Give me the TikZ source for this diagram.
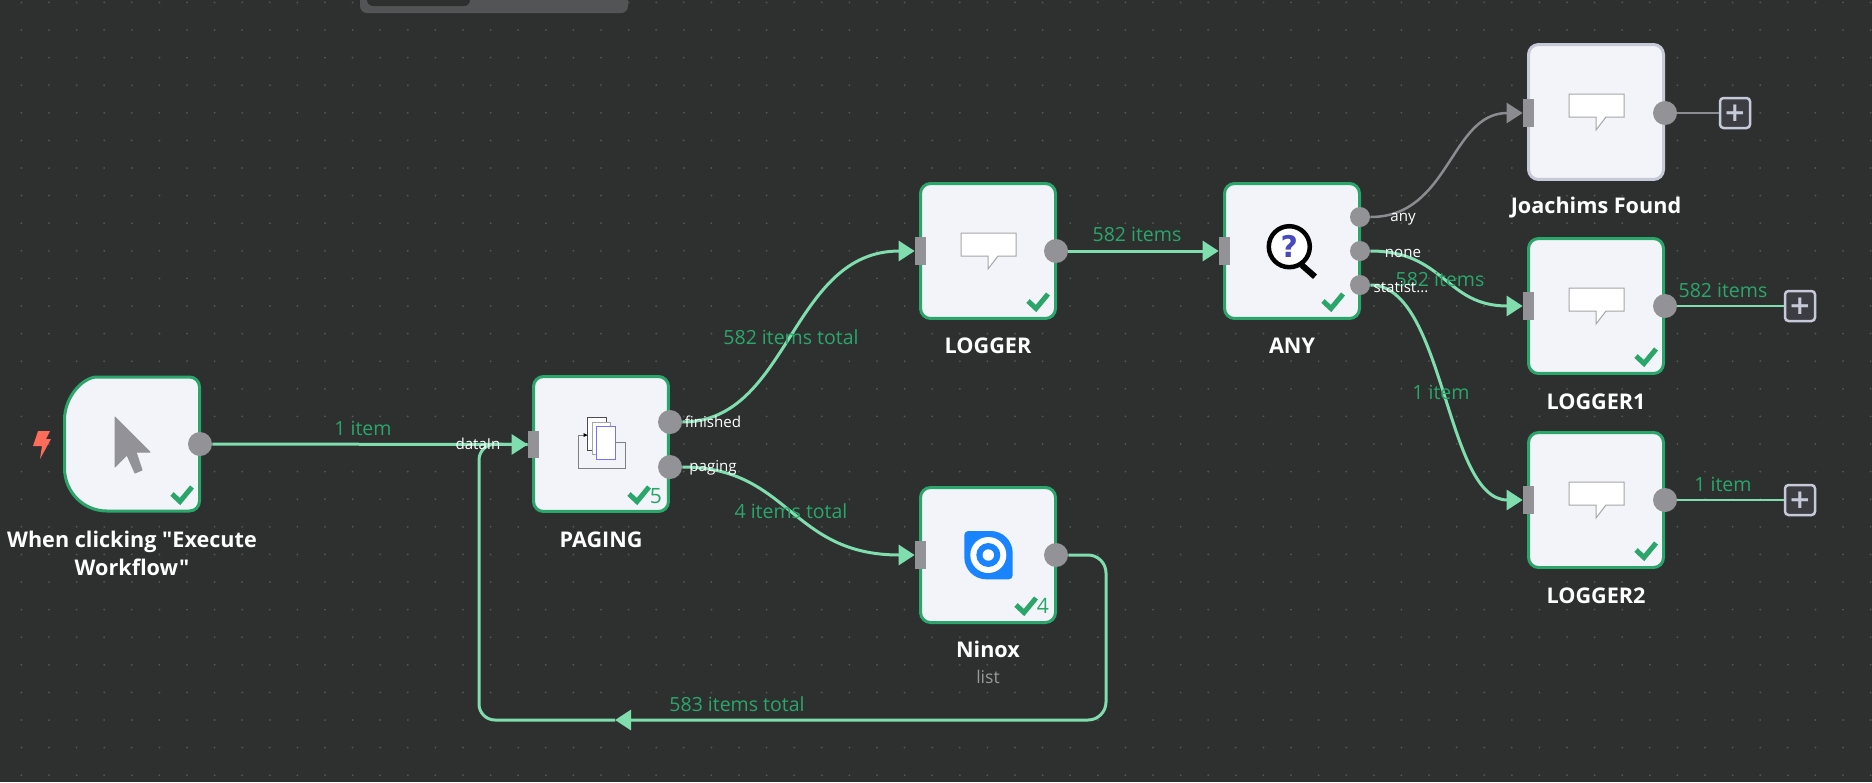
\documentclass[tikz,border=0pt]{standalone}
\usepackage{fontspec}
\setmainfont{Open Sans}
\newfontfamily\titlefont{Open Sans}
\newfontfamily\symbfont{DejaVu Sans}
\usetikzlibrary{arrows.meta}
\definecolor{canvas}{HTML}{2E302F}
\definecolor{griddot}{HTML}{555757}
\definecolor{topbar}{HTML}{525456}
\definecolor{nodefill}{HTML}{F2F4F9}
\definecolor{okgreen}{HTML}{2BA66B}
\definecolor{wiregreen}{HTML}{7FDDAE}
\definecolor{wiregrey}{HTML}{8C8C90}
\definecolor{portgrey}{HTML}{939397}
\definecolor{idleborder}{HTML}{C6CAD8}
\definecolor{ninoxblue}{HTML}{1A84FF}
\definecolor{boltred}{HTML}{FF6D5A}
\definecolor{plusfill}{HTML}{3B3D43}
\definecolor{markblue}{HTML}{4A4ABF}
\tikzset{
    nodebox/.style={draw=okgreen,fill=nodefill,line width=0.06cm,rounded corners=0.2cm,minimum width=2.7cm,minimum height=2.7cm,inner sep=0pt},
    idlebox/.style={nodebox,draw=idleborder},
    inport/.style={fill=portgrey,minimum width=0.22cm,minimum height=0.55cm,inner sep=0pt},
    outport/.style={circle,fill=portgrey,minimum size=0.48cm,inner sep=0pt},
    outportsm/.style={circle,fill=portgrey,minimum size=0.4cm,inner sep=0pt},
    wire/.style={draw=wiregreen,line width=0.06cm},
    wiregr/.style={draw=wiregrey,line width=0.05cm},
    tip/.style={-{Triangle[length=0.32cm,width=0.4cm]}},
    plusbox/.style={draw=idleborder,fill=plusfill,line width=0.05cm,rounded corners=0.07cm,minimum size=0.6cm,inner sep=0pt,text=idleborder,font=\symbfont\bfseries\fontsize{15}{15}\selectfont},
    title/.style={text=white,align=center,inner sep=0pt,font=\titlefont\bfseries\fontsize{12.3}{16}\selectfont},
    wirelabel/.style={text=okgreen,inner sep=0pt,font=\fontsize{11.1}{12}\selectfont},
    portlabel/.style={text=white,inner sep=0pt,font=\fontsize{8.6}{10}\selectfont},
    countlabel/.style={text=okgreen,inner sep=0pt,font=\fontsize{12}{12}\selectfont},
    checkline/.style={draw=okgreen,line width=0.1cm},
    thinline/.style={line width=0.02cm},
}
\newcommand{\nodecheck}[2]{\draw[checkline,shift={(#1.center)}] (#2,50) -- (#2+8,57.5) -- (#2+20,43);}
\newcommand{\bubbleicon}[1]{\draw[thinline,draw=black!35,fill=white,shift={(#1.center)}] (-27,-18) -- (28,-18) -- (28,5) -- (10,5) -- (0,18) -- (0,5) -- (-27,5) -- cycle;}
\begin{document}
\begin{tikzpicture}[x=0.02cm,y=-0.02cm]
        \useasboundingbox (0,0) rectangle (1872,782);
        \fill[canvas] (0,0) rectangle (1872,782);

        % Griglia
        \foreach \i in {0,...,67}
            \foreach \j in {0,...,28}
                \fill[griddot] (21.4+27.6*\i,2.4+27.6*\j) circle (0.02cm);

        % Barra in alto
        \fill[topbar,rounded corners=0.14cm] (360,-20) rectangle (628,13);
        \fill[canvas,rounded corners=0.12cm] (367,-20) rectangle (470,6);

        % Trigger
        \draw[draw=okgreen,fill=nodefill,line width=0.06cm] (107,377) .. controls (83.5,377) and (64.5,396) .. (64.5,420) -- (64.5,468) .. controls (64.5,492) and (83.5,511) .. (107,511) [rounded corners=0.2cm] -- (199.5,511) -- (199.5,377) -- cycle;
        \fill[portgrey,line join=round,draw=portgrey,thinline] (115,417) -- (150,452) -- (136,452) -- (142,470) -- (135,473) -- (127,455) -- (115,467) -- cycle;
        \fill[boltred] (38,431) -- (50,431) -- (46,439) -- (51,439) -- (40,459) -- (42,446) -- (33,446) -- cycle;
        \node[outport] (startout) at (200,444) {};
        \coordinate (startpos) at (132,444);
        \nodecheck{startpos}{40}
        \node[title] (starttitle) at (132,553) {When clicking "Execute\\Workflow"};

        % Nodi
        \node[nodebox] (paging) at (601,444) {};
        \node[nodebox] (logger) at (988,251) {};
        \node[nodebox] (any) at (1292,251) {};
        \node[nodebox] (ninox) at (988,555) {};
        \node[idlebox] (found) at (1596,112) {};
        \node[nodebox] (loggerA) at (1596,306) {};
        \node[nodebox] (loggerB) at (1596,500) {};

        % Porte
        \node[inport] (pagingin) at (533.5,444.5) {};
        \node[outport] (pagingdone) at (670,422) {};
        \node[outport] (pagingnext) at (670,467) {};
        \node[inport] (loggerin) at (920.5,251) {};
        \node[outport] (loggerout) at (1056,251) {};
        \node[inport] (anyin) at (1224.5,251) {};
        \node[outportsm] (anyany) at (1360,217) {};
        \node[outportsm] (anynone) at (1360,251) {};
        \node[outportsm] (anystat) at (1360,285) {};
        \node[inport] (ninoxin) at (920.5,555) {};
        \node[outport] (ninoxout) at (1056,555) {};
        \node[inport] (foundin) at (1528.5,113) {};
        \node[outport] (foundout) at (1665,113) {};
        \node[inport] (loggerAin) at (1528.5,306) {};
        \node[outport] (loggerAout) at (1665,306) {};
        \node[inport] (loggerBin) at (1528.5,500) {};
        \node[outport] (loggerBout) at (1665,500) {};

        % Pulsanti
        \node[plusbox] (foundplus) at (1735,113) {+};
        \node[plusbox] (loggerAplus) at (1800,306) {+};
        \node[plusbox] (loggerBplus) at (1800,500) {+};

        % Collegamenti
        \draw[wire,tip] (startout) -- (pagingin);
        \draw[wire,tip] (pagingdone.east) .. controls (790,422) and (790,251) .. (loggerin.west);
        \draw[wire,tip] (pagingnext.east) .. controls (790,467) and (790,555) .. (ninoxin.west);
        \draw[wire,tip] (loggerout) -- (anyin);
        \draw[wiregr,tip] (anyany.east) .. controls (1450,217) and (1450,113) .. (foundin.west);
        \draw[wire,tip] (anynone.east) .. controls (1445,251) and (1445,306) .. (loggerAin.west);
        \draw[wire,tip] (anystat.east) .. controls (1445,285) and (1445,500) .. (loggerBin.west);
        \draw[wiregr] (foundout) -- (foundplus);
        \draw[wire,line width=0.05cm] (loggerAout) -- (loggerAplus);
        \draw[wire,line width=0.05cm] (loggerBout) -- (loggerBplus);
        \coordinate (loopmid) at (615,720);
        \draw[wire,tip,rounded corners=0.36cm] (ninoxout.east) -- (1106,555) -- (1106,720) -- (loopmid);
        \draw[wire,rounded corners=0.32cm] (loopmid) -- (479,720) -- (479,444) -- (pagingin.west);

        % Icone
        \draw[thinline,draw=black!50] (587,435) -- (578.3,435) -- (578.3,468.3) -- (625,468.3) -- (625,442.7) -- (612,442.7);
        \draw[thinline,draw=black!70,fill=white] (587.3,417.3) rectangle (606.7,450);
        \draw[thinline,draw=black!35,fill=white] (592,422) rectangle (610.7,454.7);
        \draw[thinline,draw=blue!55,fill=white] (596.7,426.7) rectangle (615.7,459.3);
        \fill[black] (587.5,435) -- (583.5,433) -- (583.5,437) -- cycle;
        \bubbleicon{logger}
        \bubbleicon{found}
        \bubbleicon{loggerA}
        \bubbleicon{loggerB}
        \draw[black,line width=0.12cm] (1301.7,265) -- (1315,276.7);
        \draw[black,fill=white,line width=0.09cm] (1289.3,246.7) circle (0.41cm);
        \node[text=markblue,inner sep=0pt,font=\symbfont\bfseries\fontsize{17}{17}\selectfont] (anymark) at (1289.3,246) {?};
        \fill[ninoxblue] (964.3,535) [rounded corners=0.08cm] -- (964.3,531) [rounded corners=0.44cm] -- (1012.7,531) [rounded corners=0.08cm] -- (1012.7,579.3) [rounded corners=0.44cm] -- (964.3,579.3) [sharp corners] -- cycle;
        \fill[white] (988.3,555) circle (0.36cm);
        \fill[ninoxblue] (988.3,555) circle (0.24cm);
        \fill[white] (988.3,555) circle (0.114cm);

        % Spunte
        \nodecheck{paging}{28}
        \nodecheck{logger}{40}
        \nodecheck{any}{31}
        \nodecheck{ninox}{28}
        \nodecheck{loggerA}{40}
        \nodecheck{loggerB}{40}
        \node[countlabel] (pagingcount) at (656,496) {5};
        \node[countlabel] (ninoxcount) at (1043,606) {4};

        % Titoli
        \node[title] (pagingtitle) at (601,540) {PAGING};
        \node[title] (loggertitle) at (988,346) {LOGGER};
        \node[title] (anytitle) at (1292,346) {ANY};
        \node[title] (ninoxtitle) at (988,649) {Ninox};
        \node[text=gray!80,inner sep=0pt,font=\fontsize{10}{12}\selectfont] (ninoxsub) at (988,677) {list};
        \node[title] (foundtitle) at (1596,208) {Joachims Found};
        \node[title] (loggerAtitle) at (1596,402) {LOGGER1};
        \node[title] (loggerBtitle) at (1596,596) {LOGGER2};

        % Etichette
        \node[wirelabel] (lblstart) at (363,428) {1 item};
        \node[wirelabel] (lbldone) at (791,337) {582 items total};
        \node[wirelabel] (lblnext) at (791,511) {4 items total};
        \node[wirelabel] (lbllogger) at (1137,234) {582 items};
        \node[wirelabel] (lblnone) at (1440,279) {582 items};
        \node[wirelabel] (lblstat) at (1441,392) {1 item};
        \node[wirelabel] (lblA) at (1723,290) {582 items};
        \node[wirelabel] (lblB) at (1723,484) {1 item};
        \node[wirelabel] (lblloop) at (737,704) {583 items total};
        \node[portlabel] (portin) at (478,444) {dataIn};
        \node[portlabel] (portdone) at (713,422) {finished};
        \node[portlabel] (portnext) at (713,468) {paging};
        \node[portlabel] (portany) at (1403,219) {any};
        \node[portlabel] (portnone) at (1403,253) {none};
        \node[portlabel] (portstat) at (1401,287) {statist...};
\end{tikzpicture}
\end{document}
